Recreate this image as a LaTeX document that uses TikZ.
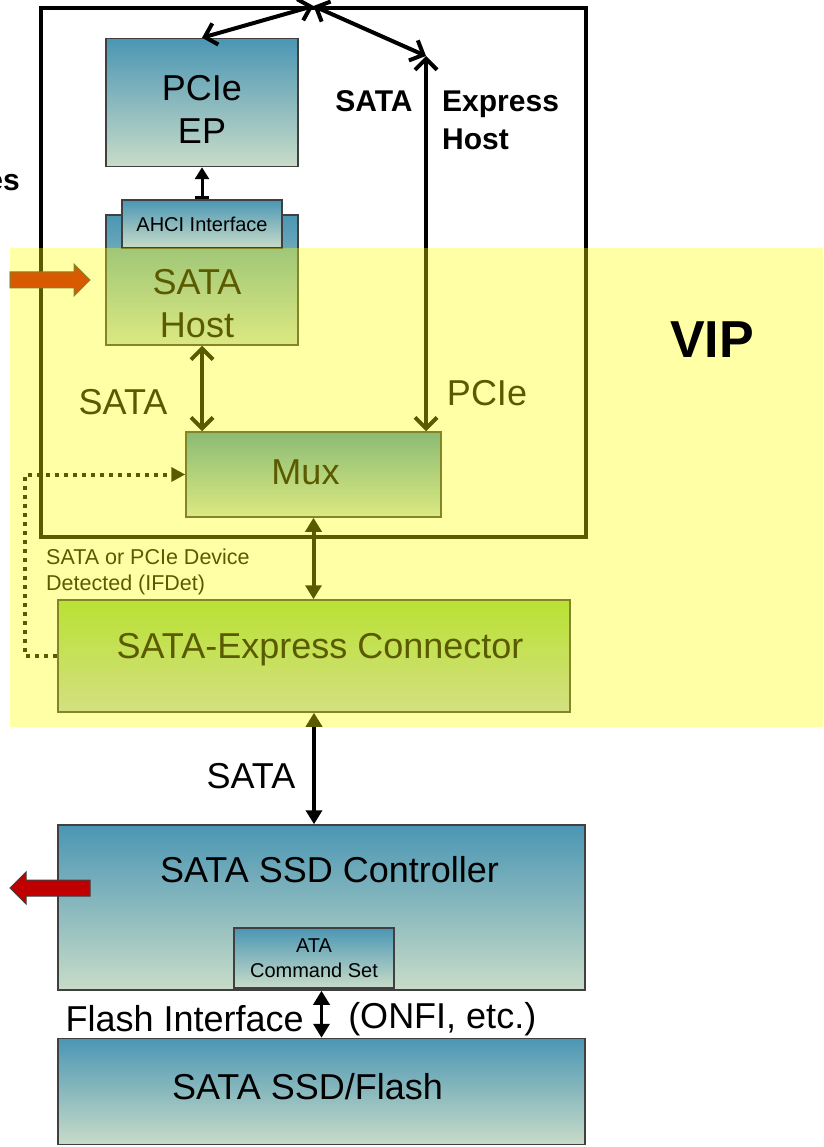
\documentclass[tikz,border=0pt]{standalone}
\usepackage{fontspec}
\setmainfont{Liberation Sans}
\usetikzlibrary{arrows.meta,positioning,calc}
\definecolor{steel}{HTML}{4B96B4}
\definecolor{sage}{HTML}{C8DCC8}
\definecolor{lime}{HTML}{92D050}
\definecolor{mist}{HTML}{BCCFC9}
\definecolor{edge}{HTML}{404040}
\definecolor{darkred}{HTML}{C00000}
\definecolor{olivewash}{HTML}{5A5A00}
\definecolor{paleyellow}{HTML}{FFFFA5}

\begin{document}
\begin{tikzpicture}[x=1pt,y=-1pt,
  b/.style={draw=edge,line width=1.5pt,top color=steel,bottom color=sage,inner sep=0pt},
  c/.style={draw=edge,line width=1.5pt,top color=lime,bottom color=mist,inner sep=0pt},
  t/.style={font=\fontsize{36}{43}\selectfont,align=center,inner sep=1pt},
  sm/.style={font=\fontsize{20}{25}\selectfont,align=center,inner sep=1pt},
  hd/.style={font=\bfseries\fontsize{30}{38}\selectfont,inner sep=1pt},
  o/.style={{Straight Barb[length=11pt,width=22pt]}-{Straight Barb[length=11pt,width=22pt]},line width=4pt},
  a/.style={{Triangle[length=14pt,width=16pt]}-{Triangle[length=14pt,width=16pt]},line width=4pt}
]
  \fill[white] (0,0) rectangle (823,1147);
  \useasboundingbox (0,0) rectangle (823,1147);
  \node[draw,line width=4pt,minimum width=545,minimum height=529] (hostframe) at (313.5,272.5) {};
  \node[b,minimum width=192,minimum height=130,
        label={[t,xshift=-5pt,yshift=-24pt]center:SATA\\Host}] (host) at (202,280) {};
  \node[b,minimum width=192,minimum height=128,above=47pt of host,
        label={[t,yshift=-7pt]center:PCIe\\EP}] (ep) {};
  \node[b,minimum width=160,minimum height=48,sm] (ahci) at (202,224) {AHCI Interface};
  \node[b,minimum width=255,minimum height=85,
        label={[t,xshift=-8pt,yshift=2pt]center:Mux}] (mux) at (313.5,474.5) {};
  \node[c,minimum width=512,minimum height=112,
        label={[t,xshift=6pt,yshift=6pt]center:SATA-Express Connector}] (conn) at (314,656) {};
  \node[b,minimum width=527,minimum height=165,
        label={[t,xshift=8pt,yshift=37.5pt]center:SATA SSD Controller}] (ctrl) at (321.5,907.5) {};
  \node[b,minimum width=160,minimum height=60,sm] (ata) at (314,958) {ATA\\Command Set};
  \node[b,minimum width=527,minimum height=106,below=47pt of ctrl,
        label={[t,xshift=-14pt,yshift=5pt]center:SATA SSD/Flash}] (flash) {};
  \coordinate (pcietop) at (426,56);

  % text
  \node[hd] (satabold) at (374,101) {SATA};
  \node[hd,anchor=west,align=left] (exphost) at (441,120) {Express\\Host};
  \node[hd,anchor=east] (es) at (21,183) {es};
  \node[t] (satalbl) at (123,402) {SATA};
  \node[t] (pcielbl) at (487,393) {PCIe};
  \node[font=\fontsize{21.5}{26}\selectfont,anchor=west,align=left,inner sep=1pt] (ifdet) at (45,572)
    {SATA or PCIe Device\\Detected (IFDet)};

  % links
  \draw[{Bar[width=14pt]}-{Triangle[length=12pt,width=14pt]},line width=3pt] (ahci) -- (ep);
  \draw[o] (hostframe.north) -- (ep.north);
  \draw[o] (hostframe.north) -- (pcietop);
  \draw[o] (pcietop) -- (pcietop |- mux.north);
  \draw[o] (host.south) -- (host.south |- mux.north);
  \draw[a] (mux.south) -- (mux.south |- conn.north);
  \draw[a,line width=3.5pt] (conn.south) -- node[t,pos=0.57,left=16pt] (satalink) {SATA} (conn.south |- ctrl.north);
  \draw[a,line width=3.5pt] (ctrl.south) -- node[t,pos=0.6,left=15pt] (flashif) {Flash Interface}
    node[t,pos=0.6,right=24pt] (onfi) {(ONFI, etc.)} (flash.north);
  \draw[line width=4pt,dash pattern=on 4pt off 5pt,-{Triangle[length=14pt,width=14pt]}]
    (conn.west) -- ++(-32,0) |- (mux.west);

  % block arrows
  \draw[draw=edge,fill=darkred,line width=1pt] (10,272) -- (74,272) -- (74,264) -- (90,280)
    -- (74,296) -- (74,288) -- (10,288) -- cycle;
  \draw[draw=edge,fill=darkred,line width=1pt] (90,880) -- (26,880) -- (26,872) -- (10,888)
    -- (26,904) -- (26,896) -- (90,896) -- cycle;

  % VIP wash
  \begin{scope}[blend mode=screen]
    \fill[olivewash] (10,248) rectangle (823,727);
  \end{scope}
  \begin{scope}[blend mode=multiply]
    \fill[paleyellow] (10,248) rectangle (823,727);
  \end{scope}
  \node[font=\bfseries\fontsize{52}{60}\selectfont] (vip) at (712,340) {VIP};
\end{tikzpicture}
\end{document}
